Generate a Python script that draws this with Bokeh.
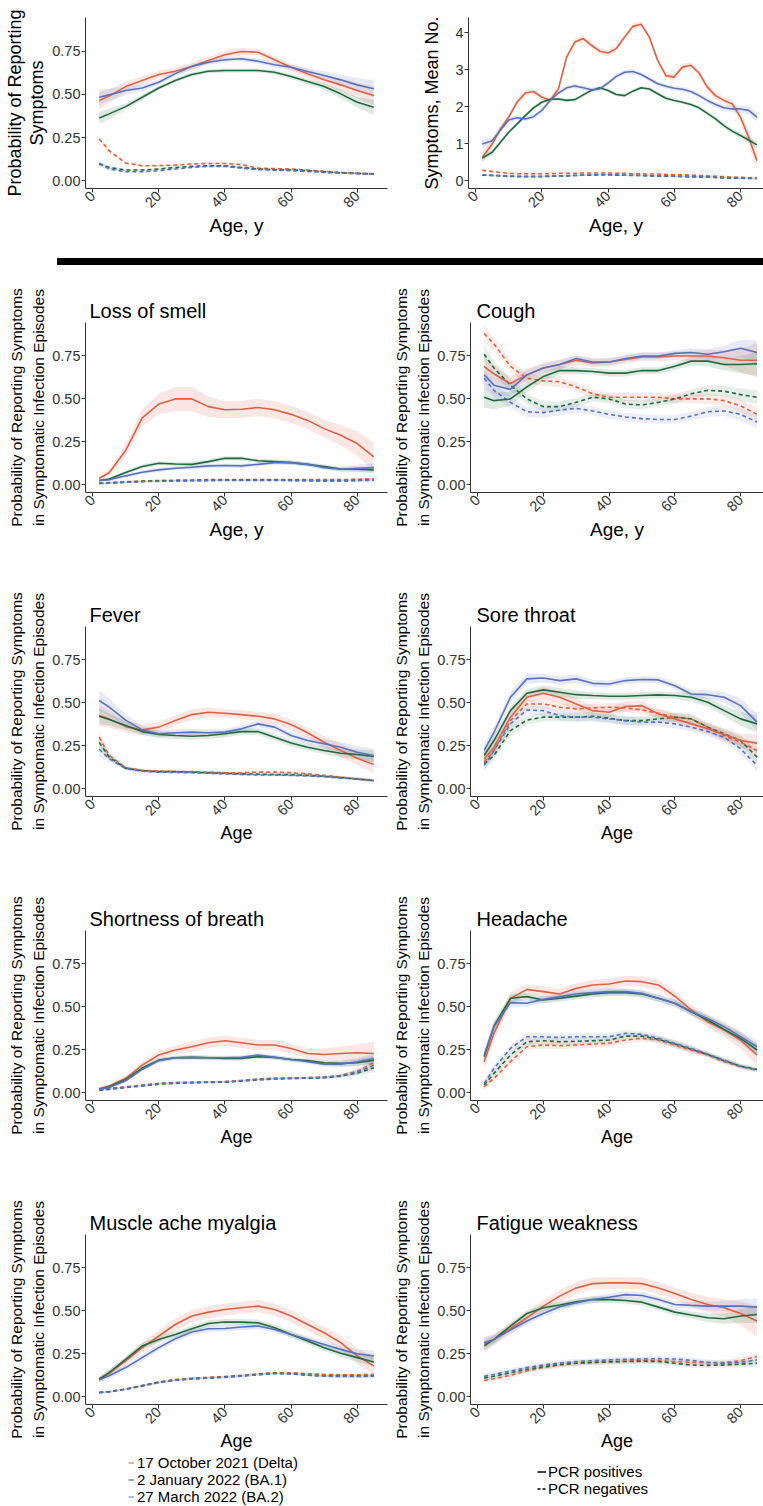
import math
from bokeh.plotting import figure
from bokeh.models import FixedTicker, Legend, LegendItem, Div, Range1d, PrintfTickFormatter
from bokeh.layouts import column, row
from bokeh.embed import file_html
from bokeh.resources import INLINE

FONT = "Liberation Sans"
VARIANTS = ["Delta", "BA.1", "BA.2"]
VARIANT_LABELS = ["17 October 2021 (Delta)", "2 January 2022 (BA.1)", "27 March 2022 (BA.2)"]
VARIANT_COLORS = ["#DF6141", "#1F6B3C", "#5872C0"]
PCR_LABELS = ["PCR positives", "PCR negatives"]
AGE_TICKS = [0, 20, 40, 60, 80]
PROB_TICKS = [0, 0.25, 0.5, 0.75]
COUNT_TICKS = [0, 1, 2, 3, 4]
SYMPTOM_TITLES = ["Loss of smell", "Cough", "Fever", "Sore throat", "Shortness of breath",
                  "Headache", "Muscle ache myalgia", "Fatigue weakness"]

AGES = [2, 5, 10, 15, 20, 25, 30, 35, 40, 45, 50, 55, 60, 65, 70, 75, 80, 85]
AGES_FINE = [2, 5, 7.5, 10, 12.5, 15, 17.5, 20, 22.5, 25, 27.5, 30, 32.5, 35, 37.5, 40, 42.5,
             45, 47.5, 50, 52.5, 55, 57.5, 60, 62.5, 65, 67.5, 70, 72.5, 75, 77.5, 80, 82.5, 85]

# ---------- Probability of reporting any symptoms ----------
ANY_POS = {
    "Delta": [0.465, 0.49, 0.545, 0.58, 0.615, 0.634, 0.661, 0.696, 0.729, 0.748, 0.744, 0.70, 0.657, 0.619, 0.584, 0.555, 0.522, 0.493],
    "BA.1": [0.363, 0.387, 0.429, 0.483, 0.537, 0.58, 0.615, 0.634, 0.638, 0.638, 0.638, 0.628, 0.603, 0.574, 0.545, 0.503, 0.454, 0.425],
    "BA.2": [0.483, 0.497, 0.522, 0.537, 0.57, 0.62, 0.662, 0.686, 0.70, 0.706, 0.692, 0.671, 0.657, 0.632, 0.609, 0.584, 0.555, 0.532],
}
ANY_NEG = {
    "Delta": [0.242, 0.174, 0.102, 0.087, 0.087, 0.091, 0.097, 0.10, 0.10, 0.093, 0.073, 0.07, 0.068, 0.062, 0.054, 0.048, 0.043, 0.039],
    "BA.1": [0.097, 0.077, 0.062, 0.062, 0.068, 0.077, 0.083, 0.087, 0.087, 0.077, 0.068, 0.064, 0.062, 0.058, 0.052, 0.046, 0.043, 0.039],
    "BA.2": [0.102, 0.068, 0.052, 0.052, 0.058, 0.068, 0.077, 0.083, 0.083, 0.073, 0.064, 0.062, 0.058, 0.054, 0.048, 0.044, 0.041, 0.039],
}
ANY_CI = {
    "Delta": [0.05, 0.04, 0.03, 0.025, 0.02, 0.02, 0.02, 0.02, 0.02, 0.02, 0.02, 0.02, 0.02, 0.025, 0.03, 0.035, 0.045, 0.055],
    "BA.1": [0.035, 0.03, 0.02, 0.015, 0.012, 0.012, 0.012, 0.012, 0.012, 0.012, 0.012, 0.012, 0.012, 0.015, 0.02, 0.025, 0.03, 0.045],
    "BA.2": [0.045, 0.035, 0.025, 0.02, 0.015, 0.015, 0.015, 0.015, 0.015, 0.015, 0.015, 0.015, 0.015, 0.02, 0.025, 0.03, 0.04, 0.05],
}
ANY_NEG_CI = [0.015, 0.01, 0.006, 0.005, 0.005, 0.005, 0.005, 0.005, 0.005, 0.005, 0.005, 0.005, 0.005, 0.005, 0.005, 0.005, 0.006, 0.008]

# ---------- Mean number of symptoms ----------
MEAN_POS = {
    "Delta": [0.63, 0.99, 1.40, 1.72, 2.12, 2.37, 2.41, 2.26, 2.17, 2.48, 3.34, 3.75, 3.84, 3.66, 3.50, 3.45, 3.57,
              3.88, 4.17, 4.23, 3.88, 3.25, 2.84, 2.80, 3.07, 3.12, 2.91, 2.53, 2.30, 2.17, 2.08, 1.72, 1.17, 0.54],
    "BA.1": [0.61, 0.77, 1.04, 1.31, 1.53, 1.76, 1.97, 2.12, 2.20, 2.21, 2.17, 2.19, 2.32, 2.44, 2.51, 2.44, 2.33,
             2.30, 2.42, 2.51, 2.48, 2.35, 2.23, 2.17, 2.12, 2.06, 1.97, 1.82, 1.67, 1.49, 1.34, 1.22, 1.10, 0.97],
    "BA.2": [0.99, 1.08, 1.37, 1.64, 1.70, 1.67, 1.73, 1.90, 2.17, 2.37, 2.51, 2.56, 2.51, 2.46, 2.48, 2.64, 2.82,
             2.93, 2.95, 2.87, 2.75, 2.62, 2.55, 2.50, 2.47, 2.41, 2.30, 2.17, 2.06, 1.97, 1.94, 1.94, 1.90, 1.72],
}
MEAN_NEG = {
    "Delta": [0.28, 0.25, 0.22, 0.20, 0.19, 0.19, 0.19, 0.19, 0.19, 0.20, 0.20, 0.20, 0.21, 0.21, 0.21, 0.21, 0.20,
              0.20, 0.19, 0.19, 0.18, 0.18, 0.17, 0.16, 0.16, 0.15, 0.14, 0.13, 0.12, 0.11, 0.10, 0.09, 0.08, 0.08],
    "BA.1": [0.15, 0.14, 0.13, 0.12, 0.11, 0.11, 0.11, 0.11, 0.12, 0.13, 0.13, 0.14, 0.15, 0.15, 0.16, 0.16, 0.15,
             0.15, 0.14, 0.14, 0.13, 0.13, 0.12, 0.12, 0.11, 0.11, 0.10, 0.10, 0.09, 0.08, 0.07, 0.07, 0.06, 0.06],
    "BA.2": [0.16, 0.15, 0.14, 0.13, 0.12, 0.12, 0.12, 0.12, 0.13, 0.13, 0.14, 0.15, 0.15, 0.16, 0.16, 0.16, 0.16,
             0.15, 0.15, 0.14, 0.14, 0.13, 0.13, 0.12, 0.12, 0.11, 0.11, 0.10, 0.09, 0.08, 0.08, 0.07, 0.07, 0.06],
}
MEAN_CI = {
    "Delta": [0.15, 0.12, 0.10, 0.09, 0.08, 0.08, 0.08, 0.08, 0.08, 0.08, 0.08, 0.08, 0.08, 0.08, 0.08, 0.08, 0.08,
              0.08, 0.08, 0.08, 0.08, 0.08, 0.08, 0.08, 0.09, 0.09, 0.09, 0.09, 0.10, 0.10, 0.11, 0.13, 0.17, 0.25],
    "BA.1": [0.10, 0.08, 0.06, 0.05, 0.05, 0.05, 0.05, 0.05, 0.05, 0.05, 0.05, 0.05, 0.05, 0.05, 0.05, 0.05, 0.05,
             0.05, 0.05, 0.05, 0.05, 0.05, 0.05, 0.05, 0.05, 0.05, 0.05, 0.05, 0.06, 0.06, 0.07, 0.08, 0.09, 0.11],
    "BA.2": [0.11, 0.09, 0.07, 0.06, 0.06, 0.06, 0.06, 0.06, 0.06, 0.06, 0.06, 0.06, 0.06, 0.06, 0.06, 0.06, 0.06,
             0.06, 0.06, 0.06, 0.06, 0.06, 0.06, 0.06, 0.06, 0.06, 0.06, 0.07, 0.07, 0.08, 0.09, 0.10, 0.11, 0.12],
}
MEAN_NEG_CI = [0.03, 0.025, 0.02, 0.02, 0.02, 0.02, 0.02, 0.02, 0.02, 0.02, 0.02, 0.02, 0.02, 0.02, 0.02, 0.02, 0.02,
               0.02, 0.02, 0.02, 0.02, 0.02, 0.02, 0.02, 0.02, 0.02, 0.02, 0.02, 0.02, 0.02, 0.02, 0.02, 0.02, 0.02]

# ---------- Loss of smell ----------
SMELL_POS = {
    "Delta": [0.038, 0.07, 0.20, 0.39, 0.47, 0.50, 0.50, 0.455, 0.437, 0.44, 0.45, 0.437, 0.41, 0.375, 0.327, 0.288, 0.24, 0.163],
    "BA.1": [0.025, 0.033, 0.071, 0.106, 0.125, 0.121, 0.119, 0.135, 0.154, 0.154, 0.14, 0.135, 0.129, 0.119, 0.106, 0.092, 0.09, 0.087],
    "BA.2": [0.025, 0.029, 0.052, 0.073, 0.087, 0.096, 0.102, 0.11, 0.112, 0.11, 0.119, 0.129, 0.129, 0.119, 0.10, 0.09, 0.096, 0.10],
}
SMELL_NEG = {
    "Delta": [0.01, 0.013, 0.018, 0.022, 0.025, 0.027, 0.028, 0.03, 0.03, 0.03, 0.03, 0.03, 0.03, 0.03, 0.03, 0.03, 0.032, 0.035],
    "BA.1": [0.008, 0.01, 0.015, 0.02, 0.022, 0.024, 0.025, 0.026, 0.027, 0.027, 0.027, 0.027, 0.026, 0.025, 0.024, 0.024, 0.026, 0.028],
    "BA.2": [0.007, 0.009, 0.014, 0.018, 0.02, 0.022, 0.023, 0.024, 0.025, 0.025, 0.025, 0.025, 0.024, 0.023, 0.022, 0.022, 0.024, 0.026],
}
SMELL_CI = {
    "Delta": [0.012, 0.018, 0.035, 0.05, 0.06, 0.07, 0.07, 0.06, 0.05, 0.05, 0.05, 0.05, 0.05, 0.05, 0.05, 0.06, 0.07, 0.085],
    "BA.1": [0.008, 0.008, 0.01, 0.012, 0.012, 0.012, 0.012, 0.012, 0.012, 0.012, 0.012, 0.012, 0.012, 0.012, 0.012, 0.012, 0.015, 0.02],
    "BA.2": [0.008, 0.008, 0.01, 0.012, 0.012, 0.012, 0.012, 0.012, 0.012, 0.012, 0.012, 0.012, 0.012, 0.012, 0.012, 0.015, 0.02, 0.025],
}
SMELL_NEG_CI = [0.004, 0.004, 0.004, 0.004, 0.004, 0.004, 0.004, 0.004, 0.004, 0.004, 0.004, 0.004, 0.004, 0.004, 0.004, 0.004, 0.005, 0.006]

# ---------- Cough ----------
COUGH_POS = {
    "Delta": [0.69, 0.645, 0.59, 0.64, 0.68, 0.70, 0.725, 0.71, 0.715, 0.73, 0.745, 0.745, 0.75, 0.75, 0.75, 0.74, 0.725, 0.725],
    "BA.1": [0.51, 0.49, 0.50, 0.57, 0.63, 0.665, 0.665, 0.66, 0.65, 0.65, 0.665, 0.665, 0.69, 0.72, 0.72, 0.70, 0.70, 0.705],
    "BA.2": [0.64, 0.58, 0.555, 0.64, 0.68, 0.70, 0.735, 0.715, 0.715, 0.735, 0.75, 0.75, 0.765, 0.77, 0.76, 0.775, 0.795, 0.77],
}
COUGH_NEG = {
    "Delta": [0.88, 0.82, 0.69, 0.62, 0.605, 0.60, 0.57, 0.53, 0.51, 0.51, 0.51, 0.51, 0.50, 0.50, 0.50, 0.49, 0.46, 0.41],
    "BA.1": [0.76, 0.68, 0.58, 0.50, 0.455, 0.455, 0.48, 0.51, 0.50, 0.47, 0.465, 0.48, 0.50, 0.53, 0.55, 0.545, 0.525, 0.51],
    "BA.2": [0.62, 0.55, 0.48, 0.425, 0.42, 0.435, 0.445, 0.43, 0.41, 0.395, 0.385, 0.38, 0.38, 0.40, 0.425, 0.43, 0.41, 0.365],
}
COUGH_CI = {
    "Delta": [0.06, 0.05, 0.04, 0.035, 0.03, 0.03, 0.025, 0.025, 0.025, 0.025, 0.025, 0.025, 0.025, 0.03, 0.035, 0.045, 0.07, 0.1],
    "BA.1": [0.06, 0.05, 0.04, 0.03, 0.025, 0.025, 0.02, 0.02, 0.02, 0.02, 0.02, 0.02, 0.02, 0.025, 0.03, 0.035, 0.05, 0.07],
    "BA.2": [0.06, 0.05, 0.04, 0.03, 0.025, 0.025, 0.02, 0.02, 0.02, 0.02, 0.02, 0.02, 0.02, 0.025, 0.03, 0.035, 0.05, 0.07],
}
COUGH_NEG_CI = [0.05, 0.04, 0.035, 0.03, 0.03, 0.03, 0.025, 0.025, 0.025, 0.025, 0.025, 0.025, 0.025, 0.025, 0.03, 0.03, 0.035, 0.04]

# ---------- Fever ----------
FEVER_POS = {
    "Delta": [0.426, 0.407, 0.362, 0.343, 0.359, 0.397, 0.432, 0.446, 0.44, 0.432, 0.422, 0.407, 0.374, 0.326, 0.271, 0.223, 0.178, 0.141],
    "BA.1": [0.422, 0.403, 0.368, 0.333, 0.316, 0.31, 0.306, 0.31, 0.32, 0.333, 0.333, 0.30, 0.266, 0.242, 0.223, 0.207, 0.20, 0.188],
    "BA.2": [0.514, 0.475, 0.40, 0.343, 0.32, 0.326, 0.33, 0.326, 0.33, 0.349, 0.378, 0.359, 0.31, 0.281, 0.262, 0.242, 0.213, 0.194],
}
FEVER_NEG = {
    "Delta": [0.30, 0.194, 0.122, 0.107, 0.103, 0.101, 0.10, 0.097, 0.093, 0.093, 0.097, 0.097, 0.093, 0.087, 0.078, 0.068, 0.058, 0.048],
    "BA.1": [0.27, 0.185, 0.12, 0.105, 0.10, 0.10, 0.097, 0.093, 0.09, 0.087, 0.085, 0.083, 0.082, 0.078, 0.072, 0.065, 0.057, 0.048],
    "BA.2": [0.23, 0.175, 0.118, 0.102, 0.097, 0.095, 0.093, 0.09, 0.087, 0.083, 0.08, 0.08, 0.078, 0.075, 0.07, 0.063, 0.056, 0.047],
}
FEVER_CI = {
    "Delta": [0.06, 0.05, 0.035, 0.03, 0.03, 0.03, 0.03, 0.03, 0.025, 0.025, 0.025, 0.03, 0.03, 0.03, 0.035, 0.04, 0.04, 0.05],
    "BA.1": [0.045, 0.035, 0.025, 0.02, 0.02, 0.02, 0.02, 0.02, 0.02, 0.02, 0.02, 0.02, 0.02, 0.02, 0.02, 0.025, 0.03, 0.035],
    "BA.2": [0.06, 0.05, 0.035, 0.025, 0.02, 0.02, 0.02, 0.02, 0.02, 0.02, 0.02, 0.02, 0.02, 0.02, 0.025, 0.03, 0.035, 0.04],
}
FEVER_NEG_CI = [0.04, 0.02, 0.01, 0.008, 0.007, 0.007, 0.007, 0.007, 0.007, 0.007, 0.007, 0.007, 0.007, 0.007, 0.007, 0.007, 0.008, 0.01]

# ---------- Sore throat ----------
SORE_POS = {
    "Delta": [0.174, 0.242, 0.417, 0.533, 0.556, 0.533, 0.494, 0.455, 0.446, 0.479, 0.484, 0.436, 0.407, 0.378, 0.349, 0.316, 0.281, 0.266],
    "BA.1": [0.194, 0.281, 0.455, 0.556, 0.576, 0.562, 0.548, 0.543, 0.539, 0.539, 0.543, 0.547, 0.543, 0.533, 0.504, 0.455, 0.407, 0.378],
    "BA.2": [0.223, 0.329, 0.533, 0.64, 0.645, 0.63, 0.64, 0.614, 0.61, 0.63, 0.636, 0.634, 0.60, 0.552, 0.548, 0.533, 0.484, 0.388],
}
SORE_NEG = {
    "Delta": [0.155, 0.223, 0.397, 0.494, 0.494, 0.475, 0.465, 0.471, 0.475, 0.471, 0.459, 0.44, 0.417, 0.407, 0.359, 0.31, 0.271, 0.223],
    "BA.1": [0.145, 0.194, 0.339, 0.40, 0.417, 0.417, 0.417, 0.422, 0.411, 0.397, 0.397, 0.407, 0.417, 0.407, 0.359, 0.32, 0.281, 0.184],
    "BA.2": [0.136, 0.223, 0.378, 0.459, 0.455, 0.426, 0.417, 0.417, 0.407, 0.397, 0.388, 0.388, 0.378, 0.359, 0.333, 0.30, 0.233, 0.136],
}
SORE_CI = {
    "Delta": [0.04, 0.035, 0.03, 0.03, 0.035, 0.035, 0.035, 0.03, 0.03, 0.03, 0.03, 0.03, 0.03, 0.03, 0.03, 0.035, 0.04, 0.05],
    "BA.1": [0.035, 0.03, 0.025, 0.025, 0.025, 0.025, 0.025, 0.02, 0.02, 0.02, 0.02, 0.02, 0.02, 0.025, 0.025, 0.03, 0.04, 0.05],
    "BA.2": [0.04, 0.035, 0.03, 0.03, 0.025, 0.025, 0.025, 0.02, 0.02, 0.02, 0.02, 0.02, 0.02, 0.025, 0.025, 0.03, 0.04, 0.05],
}
SORE_NEG_CI = [0.03, 0.03, 0.03, 0.025, 0.025, 0.025, 0.025, 0.025, 0.025, 0.025, 0.025, 0.025, 0.025, 0.025, 0.025, 0.03, 0.03, 0.035]

# ---------- Shortness of breath ----------
SOB_POS = {
    "Delta": [0.025, 0.039, 0.084, 0.161, 0.22, 0.249, 0.268, 0.291, 0.303, 0.291, 0.278, 0.278, 0.258, 0.229, 0.223, 0.229, 0.233, 0.229],
    "BA.1": [0.021, 0.035, 0.078, 0.144, 0.19, 0.204, 0.206, 0.204, 0.20, 0.20, 0.21, 0.206, 0.194, 0.187, 0.175, 0.171, 0.175, 0.19],
    "BA.2": [0.021, 0.031, 0.07, 0.136, 0.187, 0.204, 0.206, 0.204, 0.204, 0.206, 0.22, 0.206, 0.194, 0.181, 0.167, 0.167, 0.181, 0.20],
}
SOB_NEG = {
    "Delta": [0.02, 0.025, 0.035, 0.045, 0.055, 0.06, 0.062, 0.063, 0.065, 0.072, 0.08, 0.085, 0.087, 0.088, 0.09, 0.10, 0.125, 0.175],
    "BA.1": [0.015, 0.02, 0.03, 0.04, 0.05, 0.055, 0.058, 0.06, 0.062, 0.068, 0.075, 0.08, 0.083, 0.085, 0.088, 0.097, 0.115, 0.145],
    "BA.2": [0.018, 0.023, 0.033, 0.043, 0.053, 0.058, 0.06, 0.062, 0.064, 0.07, 0.078, 0.083, 0.085, 0.087, 0.09, 0.10, 0.12, 0.16],
}
SOB_CI = {
    "Delta": [0.008, 0.01, 0.015, 0.02, 0.025, 0.025, 0.03, 0.03, 0.03, 0.03, 0.03, 0.03, 0.03, 0.03, 0.035, 0.04, 0.05, 0.07],
    "BA.1": [0.006, 0.008, 0.01, 0.012, 0.012, 0.012, 0.012, 0.012, 0.012, 0.012, 0.012, 0.012, 0.012, 0.012, 0.015, 0.018, 0.02, 0.025],
    "BA.2": [0.006, 0.008, 0.01, 0.012, 0.012, 0.012, 0.012, 0.012, 0.012, 0.012, 0.012, 0.012, 0.012, 0.012, 0.015, 0.018, 0.022, 0.03],
}
SOB_NEG_CI = [0.004, 0.004, 0.004, 0.004, 0.005, 0.005, 0.005, 0.005, 0.005, 0.005, 0.005, 0.005, 0.005, 0.006, 0.007, 0.01, 0.015, 0.025]

# ---------- Headache ----------
HEAD_POS = {
    "Delta": [0.181, 0.346, 0.55, 0.602, 0.589, 0.575, 0.608, 0.628, 0.633, 0.651, 0.647, 0.628, 0.563, 0.482, 0.414, 0.365, 0.307, 0.22],
    "BA.1": [0.21, 0.389, 0.55, 0.56, 0.54, 0.55, 0.563, 0.575, 0.583, 0.583, 0.575, 0.55, 0.521, 0.472, 0.424, 0.369, 0.317, 0.249],
    "BA.2": [0.22, 0.385, 0.525, 0.521, 0.544, 0.56, 0.575, 0.583, 0.589, 0.589, 0.579, 0.55, 0.521, 0.472, 0.433, 0.385, 0.326, 0.268],
}
HEAD_NEG = {
    "Delta": [0.035, 0.084, 0.181, 0.268, 0.278, 0.274, 0.278, 0.284, 0.288, 0.307, 0.317, 0.307, 0.278, 0.249, 0.22, 0.181, 0.152, 0.132],
    "BA.1": [0.045, 0.113, 0.22, 0.297, 0.303, 0.297, 0.30, 0.303, 0.307, 0.33, 0.33, 0.311, 0.284, 0.253, 0.223, 0.187, 0.155, 0.136],
    "BA.2": [0.054, 0.142, 0.258, 0.326, 0.326, 0.322, 0.326, 0.326, 0.326, 0.346, 0.34, 0.317, 0.288, 0.258, 0.225, 0.19, 0.155, 0.132],
}
HEAD_CI = {
    "Delta": [0.04, 0.04, 0.035, 0.03, 0.03, 0.03, 0.03, 0.03, 0.03, 0.03, 0.03, 0.03, 0.03, 0.03, 0.035, 0.04, 0.05, 0.06],
    "BA.1": [0.03, 0.03, 0.025, 0.02, 0.02, 0.02, 0.02, 0.02, 0.02, 0.02, 0.02, 0.02, 0.02, 0.02, 0.025, 0.025, 0.03, 0.04],
    "BA.2": [0.03, 0.03, 0.025, 0.02, 0.02, 0.02, 0.02, 0.02, 0.02, 0.02, 0.02, 0.02, 0.02, 0.02, 0.025, 0.025, 0.03, 0.04],
}
HEAD_NEG_CI = [0.02, 0.02, 0.02, 0.02, 0.02, 0.02, 0.02, 0.02, 0.02, 0.02, 0.02, 0.02, 0.02, 0.02, 0.015, 0.015, 0.012, 0.012]

# ---------- Muscle ache ----------
MUSCLE_POS = {
    "Delta": [0.102, 0.137, 0.209, 0.286, 0.354, 0.421, 0.47, 0.493, 0.508, 0.518, 0.528, 0.508, 0.47, 0.421, 0.373, 0.315, 0.238, 0.18],
    "BA.1": [0.102, 0.141, 0.218, 0.296, 0.334, 0.363, 0.396, 0.427, 0.435, 0.435, 0.431, 0.402, 0.363, 0.325, 0.286, 0.253, 0.228, 0.203],
    "BA.2": [0.099, 0.122, 0.17, 0.228, 0.286, 0.338, 0.377, 0.396, 0.398, 0.406, 0.412, 0.392, 0.363, 0.334, 0.305, 0.276, 0.251, 0.238],
}
MUSCLE_NEG = {
    "Delta": [0.025, 0.03, 0.045, 0.065, 0.085, 0.10, 0.108, 0.113, 0.118, 0.125, 0.133, 0.14, 0.14, 0.135, 0.13, 0.128, 0.128, 0.13],
    "BA.1": [0.025, 0.03, 0.045, 0.065, 0.085, 0.098, 0.105, 0.11, 0.115, 0.122, 0.13, 0.137, 0.135, 0.127, 0.122, 0.12, 0.12, 0.122],
    "BA.2": [0.023, 0.028, 0.043, 0.062, 0.082, 0.096, 0.103, 0.108, 0.113, 0.12, 0.128, 0.135, 0.133, 0.125, 0.12, 0.118, 0.118, 0.12],
}
MUSCLE_CI = {
    "Delta": [0.02, 0.02, 0.025, 0.03, 0.035, 0.035, 0.035, 0.035, 0.035, 0.035, 0.035, 0.035, 0.035, 0.035, 0.035, 0.04, 0.045, 0.05],
    "BA.1": [0.015, 0.015, 0.015, 0.018, 0.018, 0.018, 0.018, 0.018, 0.018, 0.018, 0.018, 0.018, 0.018, 0.018, 0.02, 0.02, 0.025, 0.03],
    "BA.2": [0.015, 0.015, 0.015, 0.018, 0.018, 0.018, 0.018, 0.018, 0.018, 0.018, 0.018, 0.018, 0.018, 0.018, 0.02, 0.02, 0.025, 0.03],
}
MUSCLE_NEG_CI = [0.005, 0.005, 0.005, 0.005, 0.006, 0.006, 0.006, 0.006, 0.006, 0.006, 0.006, 0.006, 0.006, 0.006, 0.007, 0.008, 0.009, 0.01]

# ---------- Fatigue ----------
FATIGUE_POS = {
    "Delta": [0.305, 0.334, 0.396, 0.46, 0.528, 0.586, 0.634, 0.659, 0.663, 0.663, 0.659, 0.634, 0.601, 0.566, 0.537, 0.518, 0.485, 0.441],
    "BA.1": [0.296, 0.334, 0.412, 0.485, 0.518, 0.534, 0.553, 0.566, 0.566, 0.561, 0.551, 0.522, 0.493, 0.476, 0.46, 0.454, 0.47, 0.479],
    "BA.2": [0.315, 0.334, 0.389, 0.441, 0.485, 0.524, 0.547, 0.566, 0.58, 0.595, 0.59, 0.566, 0.537, 0.532, 0.528, 0.528, 0.528, 0.522],
}
FATIGUE_NEG = {
    "Delta": [0.095, 0.105, 0.125, 0.15, 0.17, 0.185, 0.195, 0.20, 0.205, 0.207, 0.21, 0.21, 0.205, 0.20, 0.20, 0.20, 0.21, 0.235],
    "BA.1": [0.11, 0.12, 0.14, 0.16, 0.175, 0.188, 0.195, 0.20, 0.203, 0.205, 0.207, 0.205, 0.195, 0.185, 0.183, 0.185, 0.19, 0.195],
    "BA.2": [0.12, 0.13, 0.15, 0.17, 0.185, 0.197, 0.205, 0.21, 0.215, 0.218, 0.22, 0.222, 0.22, 0.212, 0.20, 0.195, 0.20, 0.215],
}
FATIGUE_CI = {
    "Delta": [0.04, 0.035, 0.03, 0.03, 0.035, 0.035, 0.035, 0.035, 0.035, 0.035, 0.035, 0.035, 0.035, 0.04, 0.045, 0.05, 0.07, 0.09],
    "BA.1": [0.03, 0.025, 0.02, 0.02, 0.02, 0.02, 0.02, 0.02, 0.02, 0.02, 0.02, 0.02, 0.02, 0.02, 0.025, 0.03, 0.04, 0.05],
    "BA.2": [0.03, 0.025, 0.02, 0.02, 0.02, 0.02, 0.02, 0.02, 0.02, 0.02, 0.02, 0.02, 0.02, 0.02, 0.025, 0.03, 0.04, 0.05],
}
FATIGUE_NEG_CI = [0.015, 0.015, 0.015, 0.015, 0.015, 0.015, 0.015, 0.015, 0.015, 0.015, 0.015, 0.015, 0.015, 0.015, 0.015, 0.015, 0.018, 0.02]

PROB_LABEL_1 = "Probability of Reporting\nSymptoms"
MEAN_LABEL = "Symptoms, Mean No."
PROB_LABEL_2 = "Probability of Reporting Symptoms\nin Symptomatic Infection Episodes"

LEFT = dict(width=390, min_border_left=85, min_border_right=3, x_end=89.15, title_offset=4)
RIGHT = dict(width=373, min_border_left=78, min_border_right=0, x_end=86.97, title_offset=6)
AXIS_COLOR = "#333333"


def style_axis(ax, label, size, lh, standoff):
    ax.axis_label = label
    ax.axis_label_text_font = FONT
    ax.axis_label_text_font_size = size
    ax.axis_label_text_font_style = "normal"
    ax.axis_label_text_color = "#000000"
    ax.axis_label_text_line_height = lh
    ax.axis_label_standoff = standoff
    ax.major_label_text_font = FONT
    ax.major_label_text_font_size = "14.5px"
    ax.major_label_text_color = "#333333"
    ax.major_label_standoff = 1
    ax.axis_line_color = AXIS_COLOR
    ax.axis_line_width = 1
    ax.major_tick_line_color = AXIS_COLOR
    ax.major_tick_out = 4
    ax.major_tick_in = 0
    ax.minor_tick_line_color = None


def make_panel(side, height, top, bottom, xs, pos, neg, ci, nci, title, ylabel, ylsize, yllh, ylstand,
               xlabel, xlsize, yrange, yticks, yfmt):
    p = figure(width=side["width"], height=height,
               x_range=Range1d(-2.15, side["x_end"]), y_range=Range1d(*yrange),
               toolbar_location=None, tools="", output_backend="svg",
               min_border_left=side["min_border_left"], min_border_right=side["min_border_right"],
               min_border_top=top, min_border_bottom=bottom)
    p.grid.visible = False
    p.outline_line_color = None
    p.background_fill_color = "white"
    p.border_fill_color = "white"
    if title:
        p.title.text = title
        p.title.text_font = FONT
        p.title.text_font_size = "20px"
        p.title.text_font_style = "normal"
        p.title.text_color = "#000000"
        p.title.align = "left"
        p.title.offset = side["title_offset"]
        p.title.standoff = 1
    for v, c in zip(VARIANTS, VARIANT_COLORS):
        p.varea(x=xs, y1=[a - b for a, b in zip(neg[v], nci)], y2=[a + b for a, b in zip(neg[v], nci)],
                fill_color=c, fill_alpha=0.12)
        p.varea(x=xs, y1=[a - b for a, b in zip(pos[v], ci[v])], y2=[a + b for a, b in zip(pos[v], ci[v])],
                fill_color=c, fill_alpha=0.15)
    for v, c in zip(VARIANTS, VARIANT_COLORS):
        p.line(x=xs, y=neg[v], line_color=c, line_width=1.6, line_dash="4 3")
    for v, c in zip(VARIANTS, VARIANT_COLORS):
        p.line(x=xs, y=pos[v], line_color=c, line_width=1.6)
    xa = p.xaxis[0]
    style_axis(xa, xlabel, xlsize, 1.2, 0)
    xa.ticker = FixedTicker(ticks=AGE_TICKS)
    xa.major_label_orientation = math.pi / 4
    ya = p.yaxis[0]
    style_axis(ya, ylabel, ylsize, yllh, ylstand)
    ya.ticker = FixedTicker(ticks=yticks)
    if yfmt:
        ya.formatter = PrintfTickFormatter(format=yfmt)
    return p


PROB_RANGE = (-0.045, 0.945)

p_any = make_panel(LEFT, 252, 17, 64, AGES, ANY_POS, ANY_NEG, ANY_CI, ANY_NEG_CI, None,
                   PROB_LABEL_1, "18px", 1.11, 2, "Age, y", "19px", PROB_RANGE, PROB_TICKS, "%.2f")
p_mean = make_panel(RIGHT, 252, 17, 64, AGES_FINE, MEAN_POS, MEAN_NEG, MEAN_CI, MEAN_NEG_CI, None,
                    MEAN_LABEL, "18px", 1.2, 10, "Age, y", "19px", (-0.21, 4.41), COUNT_TICKS, None)

bar = Div(text="", width=706, height=7, margin=(6, 0, 0, 57), styles={"background-color": "#000000"})

SYMPTOM_DATA = [
    (SMELL_POS, SMELL_NEG, SMELL_CI, SMELL_NEG_CI),
    (COUGH_POS, COUGH_NEG, COUGH_CI, COUGH_NEG_CI),
    (FEVER_POS, FEVER_NEG, FEVER_CI, FEVER_NEG_CI),
    (SORE_POS, SORE_NEG, SORE_CI, SORE_NEG_CI),
    (SOB_POS, SOB_NEG, SOB_CI, SOB_NEG_CI),
    (HEAD_POS, HEAD_NEG, HEAD_CI, HEAD_NEG_CI),
    (MUSCLE_POS, MUSCLE_NEG, MUSCLE_CI, MUSCLE_NEG_CI),
    (FATIGUE_POS, FATIGUE_NEG, FATIGUE_CI, FATIGUE_NEG_CI),
]

rows = []
for i in range(0, 8, 2):
    last = (i == 6)
    h = 276 if last else 304
    bot = h - 57 - 170
    xl = "Age, y" if i == 0 else "Age"
    xls = "19px" if i == 0 else "18px"
    pair = []
    for j, side in enumerate([LEFT, RIGHT]):
        pos, neg, ci, nci = SYMPTOM_DATA[i + j]
        pair.append(make_panel(side, h, 57, bot, AGES, pos, neg, ci, nci, SYMPTOM_TITLES[i + j],
                               PROB_LABEL_2, "15.5px", 1.29, 2, xl, xls, PROB_RANGE, PROB_TICKS, "%.2f"))
    rows.append(row(*pair))

# ---------- legends ----------
LEG_TOP = 1453
LEG_H = 1506 - LEG_TOP
ROW_H = 17.2
pl = figure(width=763, height=LEG_H, x_range=Range1d(0, 1), y_range=Range1d(0, 1),
            toolbar_location=None, tools="", output_backend="svg",
            x_axis_location=None, y_axis_location=None, min_border=0)
pl.grid.visible = False
pl.outline_line_color = None
pl.background_fill_color = "white"
pl.border_fill_color = "white"


def add_legend(label, renderer, x, center_y, gw, standoff):
    leg = Legend(items=[LegendItem(label=label, renderers=[renderer])],
                 location=(x, LEG_H - (center_y - LEG_TOP) - ROW_H / 2),
                 label_text_font=FONT, label_text_font_size="15px", label_text_color="#000000",
                 glyph_width=gw, glyph_height=17, label_height=17, label_standoff=standoff,
                 spacing=0, padding=0, margin=0, border_line_color=None, background_fill_alpha=0)
    pl.add_layout(leg)


NAN2 = [math.nan, math.nan]
for k, (lab, c) in enumerate(zip(VARIANT_LABELS, VARIANT_COLORS)):
    r = pl.line(x=[0, 1], y=NAN2, line_color=c, line_width=2, line_alpha=0.5)
    add_legend(lab, r, 128, 1462 + 17 * k, 6, 3)

r_pos = pl.line(x=[0, 1], y=NAN2, line_color="#000000", line_width=1.5)
r_neg = pl.line(x=[0, 1], y=NAN2, line_color="#000000", line_width=1.5, line_dash="3 2")
add_legend(PCR_LABELS[0], r_pos, 537, 1471, 9, 2)
add_legend(PCR_LABELS[1], r_neg, 537, 1488, 9, 2)

layout = column(row(p_any, p_mean), bar, *rows, pl)
open("out.html", "w").write(file_html(layout, INLINE))
